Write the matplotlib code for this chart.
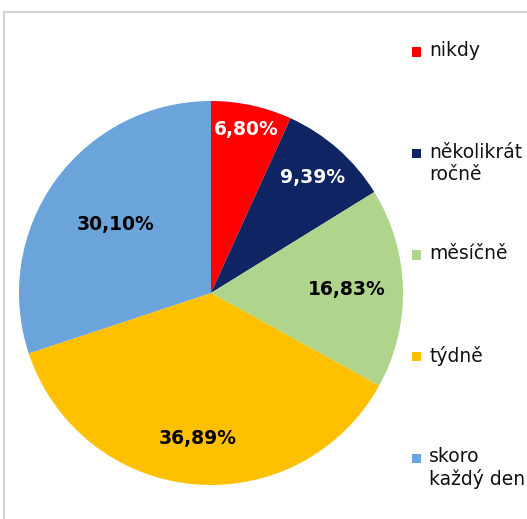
import numpy as np
import matplotlib.pyplot as plt
from matplotlib.patches import Rectangle

# data
categories = ["nikdy", "několikrát\nročně", "měsíčně", "týdně", "skoro\nkaždý den"]
shares = [6.80, 9.39, 16.83, 36.89, 30.10]
share_labels = ["6,80%", "9,39%", "16,83%", "36,89%", "30,10%"]

colours = ["#FF0000", "#0F2462", "#AFD48C", "#FFC000", "#6AA4DA"]
text_colours = ["white", "white", "black", "black", "black"]
label_radius = [0.87, 0.80, 0.71, 0.76, 0.61]

W, H = 527, 519
fig = plt.figure(figsize=(W / 100, H / 100), dpi=100)

# light grey frame, cut off at right and bottom like in the reference
fig.patches.append(Rectangle((3.5 / W, -0.1), 1.2, 1.1 - 11.5 / H, transform=fig.transFigure,
                             fill=False, edgecolor="#D4D4D4", linewidth=1.5))

# pie axes: centre (211, 293) px, radius 192 px
cx, cy, r = 211, 293, 192
ax = fig.add_axes([(cx - r) / W, (H - cy - r) / H, 2 * r / W, 2 * r / H])
wedges, _ = ax.pie(shares, colors=colours, startangle=90, counterclock=False,
                   radius=1.0, wedgeprops=dict(linewidth=0))
ax.set_xlim(-1, 1)
ax.set_ylim(-1, 1)
ax.axis("off")

for w, lab, tc, rr in zip(wedges, share_labels, text_colours, label_radius):
    mid = np.deg2rad((w.theta1 + w.theta2) / 2)
    ax.text(rr * np.cos(mid), rr * np.sin(mid), lab, ha="center", va="center",
            color=tc, fontsize=13.5, fontweight="bold", family="DejaVu Sans")

# legend, drawn by hand to keep the even spacing of the original
y0, step = 52, 101.5
for i, (cat, col) in enumerate(zip(categories, colours)):
    y = y0 + i * step
    fig.patches.append(Rectangle((412 / W, 1 - (y + 4.5) / H), 9 / W, 9 / H,
                                 transform=fig.transFigure, facecolor=col, edgecolor="none"))
    fig.text(429 / W, 1 - (y - 11) / H, cat, ha="left", va="top", fontsize=13.5,
             color="#111111", linespacing=1.2, family="DejaVu Sans")

fig.savefig("out.png", dpi=100)
